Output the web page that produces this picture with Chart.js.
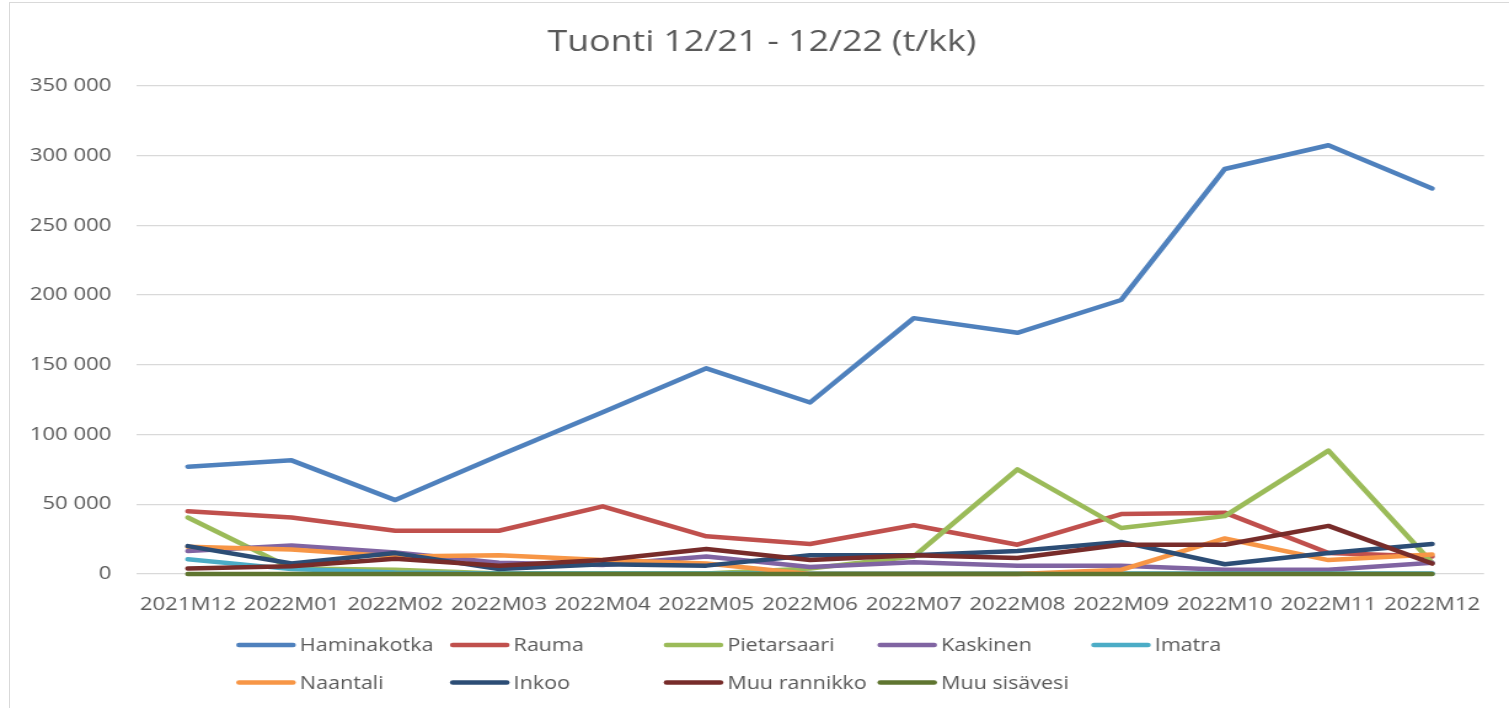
<!DOCTYPE html>
<html>
<head>
<meta charset="utf-8">
<title>Tuonti 12/21 - 12/22</title>
<script src="https://cdn.jsdelivr.net/npm/chart.js@4.4.1/dist/chart.umd.min.js"></script>
<style>
  html, body { margin: 0; padding: 0; background: #fff; overflow: hidden; }
  #frame { position: absolute; left: 9px; top: 2px; width: 1600px; height: 800px;
           border-left: 1.5px solid #d9d9d9; border-top: 1.5px solid #d9d9d9; }
  /* the reference is stretched sideways, so the chart is drawn narrower and scaled */
  #wrap { position: absolute; left: 0; top: 0; width: 1227px; height: 708px;
          transform: scaleX(1.2298); transform-origin: 0 0; }
</style>
</head>
<body>
<div id="frame"></div>
<div id="wrap"><canvas id="chart"></canvas></div>
<script>
// months
const months = ['2021M12', '2022M01', '2022M02', '2022M03', '2022M04', '2022M05', '2022M06',
                '2022M07', '2022M08', '2022M09', '2022M10', '2022M11', '2022M12'];

// tonnes per month, per port
const haminakotka = [77000, 81500, 53000, 85000, 116000, 147500, 123000, 183500, 173000, 196500, 290500, 307500, 276500];
const rauma       = [45000, 40500, 31000, 31000, 48500, 27000, 21500, 35000, 21000, 43000, 44000, 15000, 12500];
const pietarsaari = [40500, 4000, 3000, 300, 300, 300, 4000, 12500, 75000, 33000, 41500, 88500, 8000];
const kaskinen    = [16500, 20500, 15500, 8000, 6500, 12500, 5000, 8500, 6000, 6000, 3000, 3000, 8000];
const imatra      = [10500, 3500, 1000, 300, 300, 300, 300, 300, 300, 300, 300, 300, 300];
const naantali    = [19500, 17500, 12500, 13500, 10000, 7500, 0, 0, 0, 3000, 25500, 10000, 14000];
const inkoo       = [20000, 7500, 15000, 3500, 7000, 6000, 13500, 13500, 16500, 23000, 7000, 15000, 21500];
const muuRannikko = [4000, 5500, 11000, 6000, 10000, 18000, 10000, 13500, 11500, 21000, 21000, 34500, 7500];
const muuSisavesi = [0, 0, 0, 0, 0, 0, 0, 0, 0, 0, 0, 0, 0];

const seriesNames  = ['Haminakotka', 'Rauma', 'Pietarsaari', 'Kaskinen', 'Imatra',
                      'Naantali', 'Inkoo', 'Muu rannikko', 'Muu sisävesi'];
const seriesValues = [haminakotka, rauma, pietarsaari, kaskinen, imatra,
                      naantali, inkoo, muuRannikko, muuSisavesi];
const seriesColors = ['#4F81BD', '#C0504D', '#9BBB59', '#8064A2', '#4BACC6',
                      '#F79646', '#2C4D75', '#772C2A', '#5F7530'];

const yTicks = [0, 50000, 100000, 150000, 200000, 250000, 300000, 350000];

const chartTitle = 'Tuonti 12/21 - 12/22 (t/kk)';
const textColor = '#595959';
const fontName = '"Open Sans", sans-serif';

const fmt = v => String(v).replace(/\B(?=(\d{3})+(?!\d))/g, ' ');

// title sits a bit right of the canvas centre in the reference
const titlePlugin = {
    id: 'titleText',
    afterDraw(chart) {
        const ctx = chart.ctx;
        ctx.save();
        ctx.font = '29px ' + fontName;
        ctx.fillStyle = textColor;
        ctx.textAlign = 'center';
        ctx.textBaseline = 'middle';
        ctx.fillText(chartTitle, 619.6, 42.3);
        ctx.restore();
    }
};

// Excel style legend, items in fixed columns
const gridLegend = {
    id: 'gridLegend',
    afterDraw(chart) {
        const ctx = chart.ctx;
        ctx.save();
        ctx.font = '17.5px ' + fontName;
        ctx.textBaseline = 'middle';
        chart.data.datasets.forEach((ds, i) => {
            const x = 192.3 + (i % 5) * 173.8;
            const y = 645 + Math.floor(i / 5) * 37.5;
            ctx.strokeStyle = ds.borderColor;
            ctx.lineWidth = 4.5;
            ctx.lineCap = 'round';
            ctx.beginPath();
            ctx.moveTo(x + 2, y);
            ctx.lineTo(x + 46, y);
            ctx.stroke();
            ctx.fillStyle = textColor;
            ctx.fillText(ds.label, x + 51.5, y + 1.3);
        });
        ctx.restore();
    }
};

new Chart(document.getElementById('chart'), {
    type: 'line',
    data: {
        labels: months,
        datasets: seriesNames.map((name, i) => ({
            label: name,
            data: seriesValues[i],
            borderColor: seriesColors[i],
            backgroundColor: seriesColors[i],
            borderWidth: 4.5,
            borderCapStyle: 'round',
            borderJoinStyle: 'round',
            pointRadius: 0,
            tension: 0,
            clip: 6,
            order: seriesNames.length - i
        }))
    },
    options: {
        responsive: true,
        maintainAspectRatio: false,
        animation: false,
        layout: { padding: { left: 0, right: 20.3, top: 86, bottom: 0 } },
        scales: {
            x: {
                offset: true,
                grid: { display: false, drawTicks: false },
                border: { display: false },
                ticks: { color: textColor, font: { family: fontName, size: 18 }, padding: 20, maxRotation: 0, autoSkip: false },
                afterFit(scale) { scale.height = 134; }
            },
            y: {
                min: 0,
                max: 350000,
                afterBuildTicks(scale) { scale.ticks = yTicks.map(v => ({ value: v })); },
                grid: { color: '#d9d9d9', lineWidth: 1.3, drawTicks: false },
                border: { display: false },
                ticks: { color: textColor, font: { family: fontName, size: 18 }, padding: 20, callback: v => fmt(v) },
                afterFit(scale) { scale.width = 110.6; }
            }
        },
        plugins: {
            legend: { display: false },
            tooltip: { enabled: false },
            title: { display: false }
        }
    },
    plugins: [titlePlugin, gridLegend]
});
</script>
</body>
</html>
